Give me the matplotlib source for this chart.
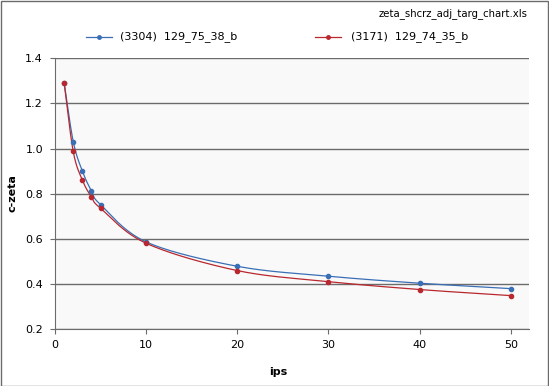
import numpy as np
import matplotlib
matplotlib.use("Agg")
import matplotlib.pyplot as plt
from matplotlib.lines import Line2D

ips = [1, 2, 3, 4, 5, 10, 20, 30, 40, 50]
zeta_3304 = [1.292, 1.031, 0.900, 0.812, 0.751, 0.586, 0.478, 0.434, 0.403, 0.379]
zeta_3171 = [1.292, 0.987, 0.860, 0.785, 0.735, 0.580, 0.459, 0.410, 0.375, 0.348]
labels = ["(3304)  129_75_38_b", "(3171)  129_74_35_b"]
colors = ["#3a6fb5", "#b8282e"]

XMAX, YMIN, YMAX = 52, 0.2, 1.4
W, H = 549, 386
AX_L, AX_R, AX_T, AX_B = 55, 529, 58.3, 329  # plot area in pixels


def smooth(xs, ys, n=30):
    # Catmull-Rom through the points, computed in pixel space (like Excel's smoothed line)
    sw, sh = AX_R - AX_L, AX_B - AX_T
    p = np.column_stack([np.array(xs) / XMAX * sw, (np.array(ys) - YMIN) / (YMAX - YMIN) * sh])
    p = np.vstack([p[0] * 2 - p[1], p, p[-1] * 2 - p[-2]])
    out = []
    for i in range(1, len(p) - 2):
        p0, p1, p2, p3 = p[i - 1], p[i], p[i + 1], p[i + 2]
        t = np.linspace(0, 1, n)[:, None]
        seg = 0.5 * ((2 * p1) + (-p0 + p2) * t + (2 * p0 - 5 * p1 + 4 * p2 - p3) * t ** 2
                     + (-p0 + 3 * p1 - 3 * p2 + p3) * t ** 3)
        out.append(seg)
    out = np.vstack(out)
    return out[:, 0] / sw * XMAX, out[:, 1] / sh * (YMAX - YMIN) + YMIN


plt.rcParams["font.family"] = "DejaVu Sans"
fig = plt.figure(figsize=(W / 100, H / 100), dpi=100)
ax = fig.add_axes([AX_L / W, 1 - AX_B / H, (AX_R - AX_L) / W, (AX_B - AX_T) / H])
ax.set_facecolor("#f9f9f9")

for ys, c in zip([zeta_3304, zeta_3171], colors):
    sx, sy = smooth(ips, ys)
    ax.plot(sx, sy, color=c, lw=0.9, zorder=3)
    ax.plot(ips, ys, "o", color=c, ms=3, zorder=4)

ax.set_xlim(0, XMAX)
ax.set_ylim(YMIN, YMAX)
ax.set_xticks(np.arange(0, 51, 10))
yt = np.arange(0.2, 1.41, 0.2)
ax.set_yticks(yt)
ax.set_yticklabels([f"{v:.1f}" for v in yt])
ax.grid(axis="y", color="#6b6b6b", lw=1)
ax.set_axisbelow(True)
for s in ["top", "right"]:
    ax.spines[s].set_visible(False)
for s in ["left", "bottom"]:
    ax.spines[s].set_color("#6b6b6b")
ax.tick_params(colors="#6b6b6b", labelcolor="black", labelsize=8, length=3.6,
               direction="out")
ax.tick_params(axis="y", pad=5)
ax.tick_params(axis="x", pad=4)

fig.text(278 / W, 1 - 372 / H, "ips", ha="center", va="center", fontsize=8, fontweight="bold")
fig.text(13 / W, 1 - 193 / H, "c-zeta", ha="center", va="center", rotation=90,
         fontsize=8, fontweight="bold")
fig.text(528 / W, 1 - 14 / H, "zeta_shcrz_adj_targ_chart.xls", ha="right", va="center",
         fontsize=7.3)

# legend drawn by hand to match the original positions
leg_y = 1 - 36.8 / H
for (x0, x1, tx), lab, c in zip([(86, 111.5, 120), (315, 341, 351)], labels, colors):
    fig.add_artist(Line2D([x0 / W, x1 / W], [leg_y, leg_y], color=c, lw=0.9))
    fig.add_artist(Line2D([(x0 + x1) / 2 / W], [leg_y], marker="o", color=c, ms=2.5))
    fig.text(tx / W, leg_y, lab, ha="left", va="center", fontsize=8)

fig.add_artist(plt.Rectangle((0.001, 0.001), 0.997, 0.997, transform=fig.transFigure,
                             fill=False, ec="#6b6b6b", lw=1))
fig.savefig("out.png", dpi=100)
